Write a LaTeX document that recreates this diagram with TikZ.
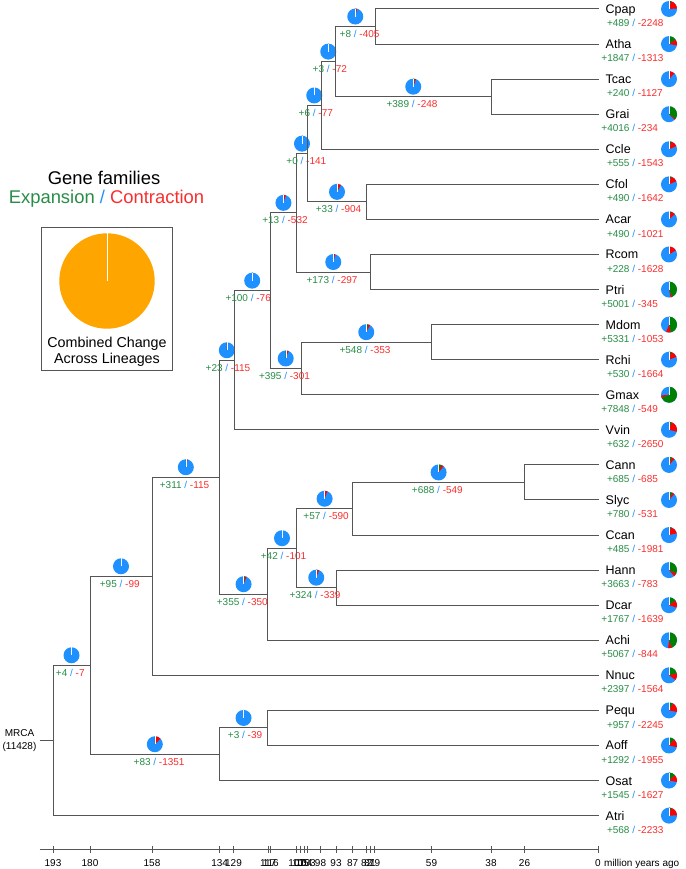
\documentclass[tikz,border=0pt]{standalone}
\usepackage{fontspec}
\setmainfont{Liberation Sans}
\usetikzlibrary{calc}
\definecolor{tgreen}{RGB}{40,140,70}
\definecolor{tred}{RGB}{250,45,45}
\definecolor{tblue}{RGB}{30,144,255}
\definecolor{pieblue}{RGB}{30,144,255}
\definecolor{piegreen}{RGB}{0,128,0}
\definecolor{piered}{RGB}{255,0,0}
\definecolor{treegray}{RGB}{85,85,85}
\definecolor{pieorange}{RGB}{255,165,0}
\newcommand{\statlabel}[2]{\makebox[0pt][r]{\textcolor{tgreen}{+#1}\hspace{0.278em}}\textcolor{tblue}{/}\makebox[0pt][l]{\hspace{0.278em}\textcolor{tred}{-#2}}}
\newcommand{\piechart}[4]{%
  \begin{scope}[shift={(#1)}, yshift=#2pt, x=1pt, y=1pt]
    \pgfmathsetmacro{\pga}{90-#3*0.03150158}
    \pgfmathsetmacro{\pgb}{\pga-#4*0.03150158}
    \fill[pieblue] (0,0) circle[radius=8];
    \fill[piegreen] (0,0) -- (90:8) arc[start angle=90, end angle=\pga, radius=8] -- cycle;
    \fill[piered] (0,0) -- (\pga:8) arc[start angle=\pga, end angle=\pgb, radius=8] -- cycle;
    \draw[white, line width=0.4pt] (0,0) -- (90:8);
  \end{scope}}
\newcommand{\leaf}[4]{%
  \coordinate (#2) at (599,{9+35.07*#1});
  \coordinate (#2p) at (669,{9+35.07*#1});
  \node[leaflbl] (#2lbl) at ([xshift=6.5pt,yshift=-4.5pt]#2) {#2};
  \piechart{#2p}{0}{#3}{#4}
  \node[stat] (#2st) at (633.7,{9+35.07*#1+17.6}) {\statlabel{#3}{#4}};}
\newcommand{\brn}[5]{%
  \draw[tree] (#2) |- (#3);
  \coordinate (#1m) at ($(#2 |- #3)!0.5!(#3)$);
  \piechart{#1m}{10}{#4}{#5}
  \node[stat] (#1l) at ([yshift=-11pt]#1m) {\statlabel{#4}{#5}};}
\begin{document}
\begin{tikzpicture}[x=1pt,y=-1pt,
  tree/.style={draw=treegray, line width=1pt},
  stat/.style={font=\fontsize{10}{12}\selectfont, anchor=base, inner sep=0pt},
  leaflbl/.style={font=\fontsize{12.5}{15}\selectfont, anchor=base west, inner sep=0pt}]
\useasboundingbox (0,0) rectangle (685,869);
% leaves
\leaf{0}{Cpap}{489}{2248}
\leaf{1}{Atha}{1847}{1313}
\leaf{2}{Tcac}{240}{1127}
\leaf{3}{Grai}{4016}{234}
\leaf{4}{Ccle}{555}{1543}
\leaf{5}{Cfol}{490}{1642}
\leaf{6}{Acar}{490}{1021}
\leaf{7}{Rcom}{228}{1628}
\leaf{8}{Ptri}{5001}{345}
\leaf{9}{Mdom}{5331}{1053}
\leaf{10}{Rchi}{530}{1664}
\leaf{11}{Gmax}{7848}{549}
\leaf{12}{Vvin}{632}{2650}
\leaf{13}{Cann}{685}{685}
\leaf{14}{Slyc}{780}{531}
\leaf{15}{Ccan}{485}{1981}
\leaf{16}{Hann}{3663}{783}
\leaf{17}{Dcar}{1767}{1639}
\leaf{18}{Achi}{5067}{844}
\leaf{19}{Nnuc}{2397}{1564}
\leaf{20}{Pequ}{957}{2245}
\leaf{21}{Aoff}{1292}{1955}
\leaf{22}{Osat}{1545}{1627}
\leaf{23}{Atri}{568}{2233}
% internal nodes
\coordinate (root) at (53,740.436);
\coordinate (n180) at (90,665.261);
\coordinate (n158) at (152,576.285);
\coordinate (n134a) at (219.6,477.239);
\coordinate (n129) at (234,360.248);
\coordinate (n116) at (270.4,290.656);
\coordinate (n107r) at (296.5,212.844);
\coordinate (n103) at (307.5,153.664);
\coordinate (n98) at (321,105.4425);
\coordinate (n93r) at (335.5,61.605);
\coordinate (n79) at (375,26.535);
\coordinate (n38) at (491,96.675);
\coordinate (n82) at (366.5,201.885);
\coordinate (n81) at (370,272.025);
\coordinate (n105) at (301,368.4675);
\coordinate (n59) at (431.5,342.165);
\coordinate (n117a) at (267.5,594.23);
\coordinate (n107a) at (296.5,548.201);
\coordinate (n87) at (352.7,508.7475);
\coordinate (n26) at (524.5,482.445);
\coordinate (n93a) at (336,587.655);
\coordinate (n134m) at (219.6,754.2375);
\coordinate (n117m) at (267.5,727.935);
% leaf edges
\draw[tree] (n79) |- (Cpap); \draw[tree] (n79) |- (Atha);
\draw[tree] (n38) |- (Tcac); \draw[tree] (n38) |- (Grai);
\draw[tree] (n98) |- (Ccle);
\draw[tree] (n82) |- (Cfol); \draw[tree] (n82) |- (Acar);
\draw[tree] (n81) |- (Rcom); \draw[tree] (n81) |- (Ptri);
\draw[tree] (n59) |- (Mdom); \draw[tree] (n59) |- (Rchi);
\draw[tree] (n105) |- (Gmax);
\draw[tree] (n129) |- (Vvin);
\draw[tree] (n26) |- (Cann); \draw[tree] (n26) |- (Slyc);
\draw[tree] (n87) |- (Ccan);
\draw[tree] (n93a) |- (Hann); \draw[tree] (n93a) |- (Dcar);
\draw[tree] (n117a) |- (Achi);
\draw[tree] (n158) |- (Nnuc);
\draw[tree] (n117m) |- (Pequ); \draw[tree] (n117m) |- (Aoff);
\draw[tree] (n134m) |- (Osat);
\draw[tree] (root) |- (Atri);
% internal branches
\brn{b180}{root}{n180}{4}{7}
\brn{b158}{n180}{n158}{95}{99}
\brn{b134a}{n158}{n134a}{311}{115}
\brn{b129}{n134a}{n129}{23}{115}
\brn{b116}{n129}{n116}{100}{76}
\brn{b107r}{n116}{n107r}{13}{532}
\brn{b103}{n107r}{n103}{0}{141}
\brn{b98}{n103}{n98}{6}{77}
\brn{b93r}{n98}{n93r}{3}{72}
\brn{b79}{n93r}{n79}{8}{405}
\brn{b38}{n93r}{n38}{389}{248}
\brn{b82}{n103}{n82}{33}{904}
\brn{b81}{n107r}{n81}{173}{297}
\brn{b105}{n116}{n105}{395}{301}
\brn{b59}{n105}{n59}{548}{353}
\brn{b117a}{n134a}{n117a}{355}{350}
\brn{b107a}{n117a}{n107a}{42}{101}
\brn{b87}{n107a}{n87}{57}{590}
\brn{b26}{n87}{n26}{688}{549}
\brn{b93a}{n107a}{n93a}{324}{339}
\brn{b134m}{n180}{n134m}{83}{1351}
\brn{b117m}{n134m}{n117m}{3}{39}
% MRCA
\node[font=\fontsize{10}{13}\selectfont, align=center, inner sep=0pt] (mrca) at (19.5,741) {MRCA\\(11428)};
\coordinate (stub) at (39.5,740.436);
\draw[tree] (stub) -- (root);
% legend
\node[font=\fontsize{18.4}{22}\selectfont, anchor=base, inner sep=0pt] (gf) at (104,184) {Gene families};
\node[font=\fontsize{18.4}{22}\selectfont, anchor=base, inner sep=0pt] (ec) at (106.5,203.3) {\textcolor{tgreen}{Expansion} \textcolor{tblue}{/} \textcolor{tred}{Contraction}};
\node[draw=treegray, line width=0.9pt, minimum width=131.4pt, minimum height=143pt, inner sep=0pt] (box) at (107,299.2) {};
\coordinate (opc) at (107,281);
\fill[pieorange] (opc) circle[radius=47.7];
\coordinate (opt) at (107,233.3);
\draw[white, line width=0.7pt] (opc) -- (opt);
\node[font=\fontsize{14.3}{17}\selectfont, anchor=base, inner sep=0pt] (cc) at (107,347.7) {Combined Change};
\node[font=\fontsize{14.3}{17}\selectfont, anchor=base, inner sep=0pt] (al) at (107,363) {Across Lineages};
% axis
\coordinate (ax0) at (39.5,849);
\coordinate (ax1) at (598,849);
\draw[tree, line width=0.8pt] (ax0) -- (ax1);
\foreach \xx/\lab in {53/193,90/180,152/158,219.6/134,233.5/129,268.2/117,270.8/116,296.7/107,300.7/105,304/104,307.3/103,320.5/98,336/93,352.7/87,366.7/82,370/81,374.5/79,431.5/59,491/38,524.5/26,598/0}{
  \draw[tree, line width=0.8pt] (\xx,845.5) -- (\xx,852.5);
  \node[stat] (tk\lab) at (\xx,866) {\lab};
}
\node[stat, anchor=base west] (mya) at ([xshift=3pt]tk0.base east) {million years ago};
\end{tikzpicture}
\end{document}
